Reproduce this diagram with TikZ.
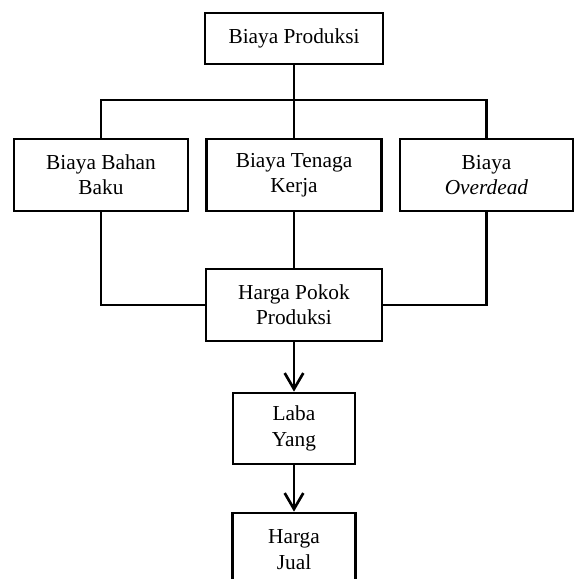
\documentclass[tikz,border=0pt]{standalone}
\usepackage{fontspec}
\setmainfont{Liberation Serif}
\usetikzlibrary{arrows.meta}
\begin{document}
\begin{tikzpicture}[x=0.75pt,y=-0.75pt,
  box/.style={draw,line width=2pt,align=center,inner sep=0pt,
    font=\fontsize{16pt}{19pt}\selectfont},
  link/.style={line width=2pt},
  arr/.style={line width=2pt,-{Straight Barb[length=12pt,width=14pt]}}]
\useasboundingbox (0,0) rectangle (574,579);
\clip (0,0) rectangle (574,579);
\node[box,minimum width=133.5pt,minimum height=38.25pt] (top) at (294,38.5) {\raisebox{-2pt}{Biaya Produksi}};
\node[box,minimum width=130.5pt,minimum height=54pt] (b1) at (101,175) {Biaya Bahan\\Baku};
\node[box,minimum width=131pt,minimum height=54pt] (b2) at (294,175) {Biaya Tenaga\\Kerja};
\node[box,minimum width=130pt,minimum height=54pt] (b3) at (486.5,175) {Biaya\\\textit{Overdead}};
\node[box,minimum width=132pt,minimum height=54pt] (hpp) at (294,305) {Harga Pokok\\Produksi};
\node[box,minimum width=91.5pt,minimum height=53.25pt] (laba) at (294,428.5) {Laba\\Yang};
\node[box,minimum width=92.25pt,minimum height=54.75pt] (jual) at (294,549.5) {Harga\\Jual};
\coordinate (bar) at (294,100);
\draw[link] (top.south) -- (b2.north);
\draw[link] (b1.north) -- (b1.north |- bar) -- (b3.north |- bar) -- (b3.north);
\draw[link] (b1.south) |- (hpp.west);
\draw[link] (b3.south) |- (hpp.east);
\draw[link] (b2.south) -- (hpp.north);
\draw[arr] (hpp.south) -- (laba.north);
\draw[arr] (laba.south) -- (jual.north);
\end{tikzpicture}
\end{document}
